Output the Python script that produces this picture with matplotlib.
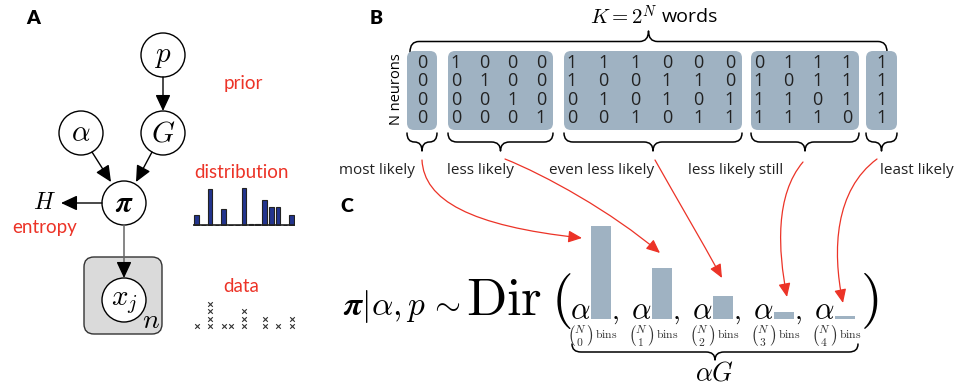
import matplotlib
matplotlib.use("Agg")
import matplotlib.pyplot as plt
from matplotlib.patches import Circle, FancyBboxPatch, FancyArrowPatch, PathPatch
from matplotlib.path import Path
from matplotlib.transforms import blended_transform_factory

plt.rcParams['mathtext.fontset'] = 'cm'
plt.rcParams['font.family'] = ['Open Sans', 'DejaVu Sans']

W, H = 956, 388
RED = '#ec3327'
SLATE = '#9fb2c2'
NAVY = '#23348e'
LABEL_FONT = ['Lato', 'DejaVu Sans']

# A: toy distribution over 15 bins and the samples drawn from it
dist_heights = [10.7, 0, 35.7, 0, 16.7, 0, 0, 37.3, 1, 1, 25, 18.3, 18.3, 0, 10.7]
data_counts = [1, 0, 4, 0, 1, 1, 0, 3, 0, 0, 2, 0, 1, 0, 2]

# B: all words for N=4 neurons grouped by spike count (one string per column)
word_groups = [['0000'],
               ['1000', '0100', '0010', '0001'],
               ['1100', '1010', '1001', '0110', '0101', '0011'],
               ['0111', '1011', '1101', '1110'],
               ['1111']]
group_labels = ['most likely', 'less likely', 'even less likely',
                'less likely still', 'least likely']

# C: base-measure mass per spike-count group
group_mass = [93.3, 51.7, 23.3, 7.3, 3.6]

fig = plt.figure(figsize=(W / 100, H / 100), dpi=100)
ax = fig.add_axes([0, 0, 1, 1])
ax.set_xlim(0, W); ax.set_ylim(H, 0); ax.axis('off')


def px_axes(x0, y0, x1, y1):
    """inset axes given in pixel box (y measured from top)"""
    a = fig.add_axes([x0 / W, 1 - y1 / H, (x1 - x0) / W, (y1 - y0) / H])
    a.patch.set_alpha(0); a.axis('off')
    return a


def brace(x0, x1, ye, yt, lw=1.1):
    xm = (x0 + x1) / 2; ym = (ye + yt) / 2
    r = min(9, (x1 - x0) / 4)
    C3, LT = Path.CURVE3, Path.LINETO
    verts = [(x0, ye), (x0, ym), (x0 + r, ym), (xm - r, ym), (xm, ym), (xm, yt),
             (xm, ym), (xm + r, ym), (x1 - r, ym), (x1, ym), (x1, ye)]
    codes = [Path.MOVETO, C3, C3, LT, C3, C3, C3, C3, LT, C3, C3]
    ax.add_patch(PathPatch(Path(verts, codes), fc='none', ec='black', lw=lw,
                           capstyle='round', joinstyle='round'))


def arrow(p0, p1, color='black', ms=17, lw=1.0, style='-|>,head_length=0.58,head_width=0.27'):
    ax.add_patch(FancyArrowPatch(p0, p1, arrowstyle=style, mutation_scale=ms,
                                 color=color, lw=lw, shrinkA=0, shrinkB=0, zorder=3))


def red_curve(pts):
    path = Path(pts, [Path.MOVETO, Path.CURVE4, Path.CURVE4, Path.CURVE4])
    ax.add_patch(FancyArrowPatch(path=path, arrowstyle='-|>,head_length=0.75,head_width=0.33',
                                 mutation_scale=11, color=RED, lw=0.9, zorder=4))


# ---------------- A: graphical model ----------------
ax.text(33, 18, 'A', fontsize=14, fontweight='heavy', family=LABEL_FONT, ha='center', va='center')

ax.add_patch(FancyBboxPatch((84, 257), 78, 77, boxstyle='round,pad=0,rounding_size=10',
                            fc='#dadada', ec='#333333', lw=1, zorder=1))
nodes = {'p': (163, 55), 'G': (163, 133), 'a': (81, 133), 'pi': (124, 203), 'x': (124, 300)}
node_txt = {'p': r'$p$', 'G': r'$G$', 'a': r'$\alpha$', 'pi': r'$\boldsymbol{\pi}$', 'x': r'$x_j$'}
for k, (cx, cy) in nodes.items():
    ax.add_patch(Circle((cx, cy), 22, fc='white', ec='black', lw=1, zorder=2))
    ax.text(cx, cy + 1, node_txt[k], fontsize=21, ha='center', va='center', zorder=3)
ax.text(151, 321, r'$n$', fontsize=20, ha='center', va='center')

arrow((163, 77), (163, 111))
arrow((92, 152), (111, 182))
arrow((152, 152), (136, 182))
arrow((102, 203), (61, 203))
ax.plot([124, 124], [225, 268], color='#666666', lw=1.1)
arrow((124, 264), (124, 278))
ax.text(44, 203, r'$H$', fontsize=17, ha='center', va='center')

lab = dict(color=RED, fontsize=13.5, family=LABEL_FONT, ha='center', va='center')
ax.text(243, 84, 'prior', **lab)
ax.text(242, 172, 'distribution', **lab)
ax.text(45, 227, 'entropy', **lab)
ax.text(241, 287, 'data', **lab)

bins = range(len(dist_heights))
ax_d = px_axes(193.2, 184, 295.1, 226)
ax_d.bar(bins, dist_heights, width=0.68, color=NAVY, edgecolor='#222222', lw=0.8)
ax_d.axhline(0, color='#222222', lw=1.2)
ax_d.set_xlim(-0.5, 14.5); ax_d.set_ylim(-0.5, 41)

ax_s = px_axes(193.2, 299.75, 295.1, 329.75)
for b, c in zip(bins, data_counts):
    if c:
        ax_s.scatter([b] * c, range(1, c + 1), marker='x', s=11, color='#333333', lw=0.8)
ax_s.set_xlim(-0.5, 14.5); ax_s.set_ylim(0.5, 4.5)

# ---------------- B: binary words ----------------
ax.text(376, 18, 'B', fontsize=14, fontweight='heavy', family=LABEL_FONT, ha='center', va='center')
ax.text(657, 18, r'$K = 2^N$', fontsize=15, ha='right', va='center')
ax.text(662, 17, 'words', fontsize=14, ha='left', va='center')
brace(410, 887, 52, 31)

ax.text(397, 89, 'N neurons', fontsize=10.5, rotation=90, ha='center', va='center')

box_left = [407, 448, 564, 751, 866]
box_w = [30, 105, 178, 108, 31]
label_x = [377, 480, 602, 736, 917]
box_top, box_bot = 51, 130
for g, cols in enumerate(word_groups):
    x0, w = box_left[g], box_w[g]
    ax.add_patch(FancyBboxPatch((x0, box_top), w, box_bot - box_top,
                                boxstyle='round,pad=0,rounding_size=7', fc=SLATE, ec='none'))
    n = len(cols)
    for j, word in enumerate(cols):
        cx = x0 + w / 2 if n == 1 else x0 + 8 + j * (w - 20) / (n - 1)
        for r, bit in enumerate(word):
            ax.text(cx, 63 + 18.3 * r, bit, fontsize=13, ha='center', va='center', color='#222222')
    brace(x0, x0 + w, 133, 151)
    ax.text(label_x[g], 171, group_labels[g], fontsize=11, ha='center', va='center', color='#222222')

# ---------------- C: Dirichlet prior ----------------
ax.text(347, 206, 'C', fontsize=14, fontweight='heavy', family=LABEL_FONT, ha='center', va='center')
ax.text(343, 315, r'$\boldsymbol{\pi}|\alpha,p\,\sim$', fontsize=24, ha='left', va='baseline')
ax.text(466, 315, r'$\mathrm{Dir}$', fontsize=38, ha='left', va='baseline')
ax.text(551, 315, r'$($', fontsize=40, ha='left', va='baseline')
ax.text(860, 315, r'$)$', fontsize=40, ha='left', va='baseline')

ax_c = px_axes(570.5, 219.3, 875.5, 319.3)
groups = range(len(group_mass))
ax_c.bar(groups, group_mass, width=0.33, color=SLATE)
ax_c.set_xlim(-0.5, 4.5); ax_c.set_ylim(0, 100)
tc = blended_transform_factory(ax_c.transData, ax.transData)
for k in groups:
    ax.text(k - 0.345, 319, r'$\alpha$', fontsize=22, ha='center', va='baseline', transform=tc)
    if k < len(group_mass) - 1:
        ax.text(k + 0.17, 319, r'$,$', fontsize=20, ha='left', va='baseline', transform=tc)
    ax.text(k - 0.345, 336, r'$\binom{N}{%d}$' % k, fontsize=12, ha='center', va='center',
            transform=tc, color='#333333')
    ax.text(k + 0.08, 334, r'$\mathrm{bins}$', fontsize=8.5, ha='center', va='center',
            transform=tc, color='#333333')
brace(572, 858, 344, 360)
ax.text(715, 374, r'$\alpha G$', fontsize=19, ha='center', va='center')

# red links from word groups to their mass
red_curve([(422, 160), (424, 200), (470, 226), (582, 238)])
red_curve([(505, 159), (545, 175), (612, 212), (660, 253)])
red_curve([(655, 160), (677, 199), (700, 238), (722, 278)])
red_curve([(803, 162), (775, 195), (778, 250), (787, 297)])
red_curve([(877, 159), (835, 190), (832, 250), (843, 303)])

fig.savefig('out.png', dpi=100)
